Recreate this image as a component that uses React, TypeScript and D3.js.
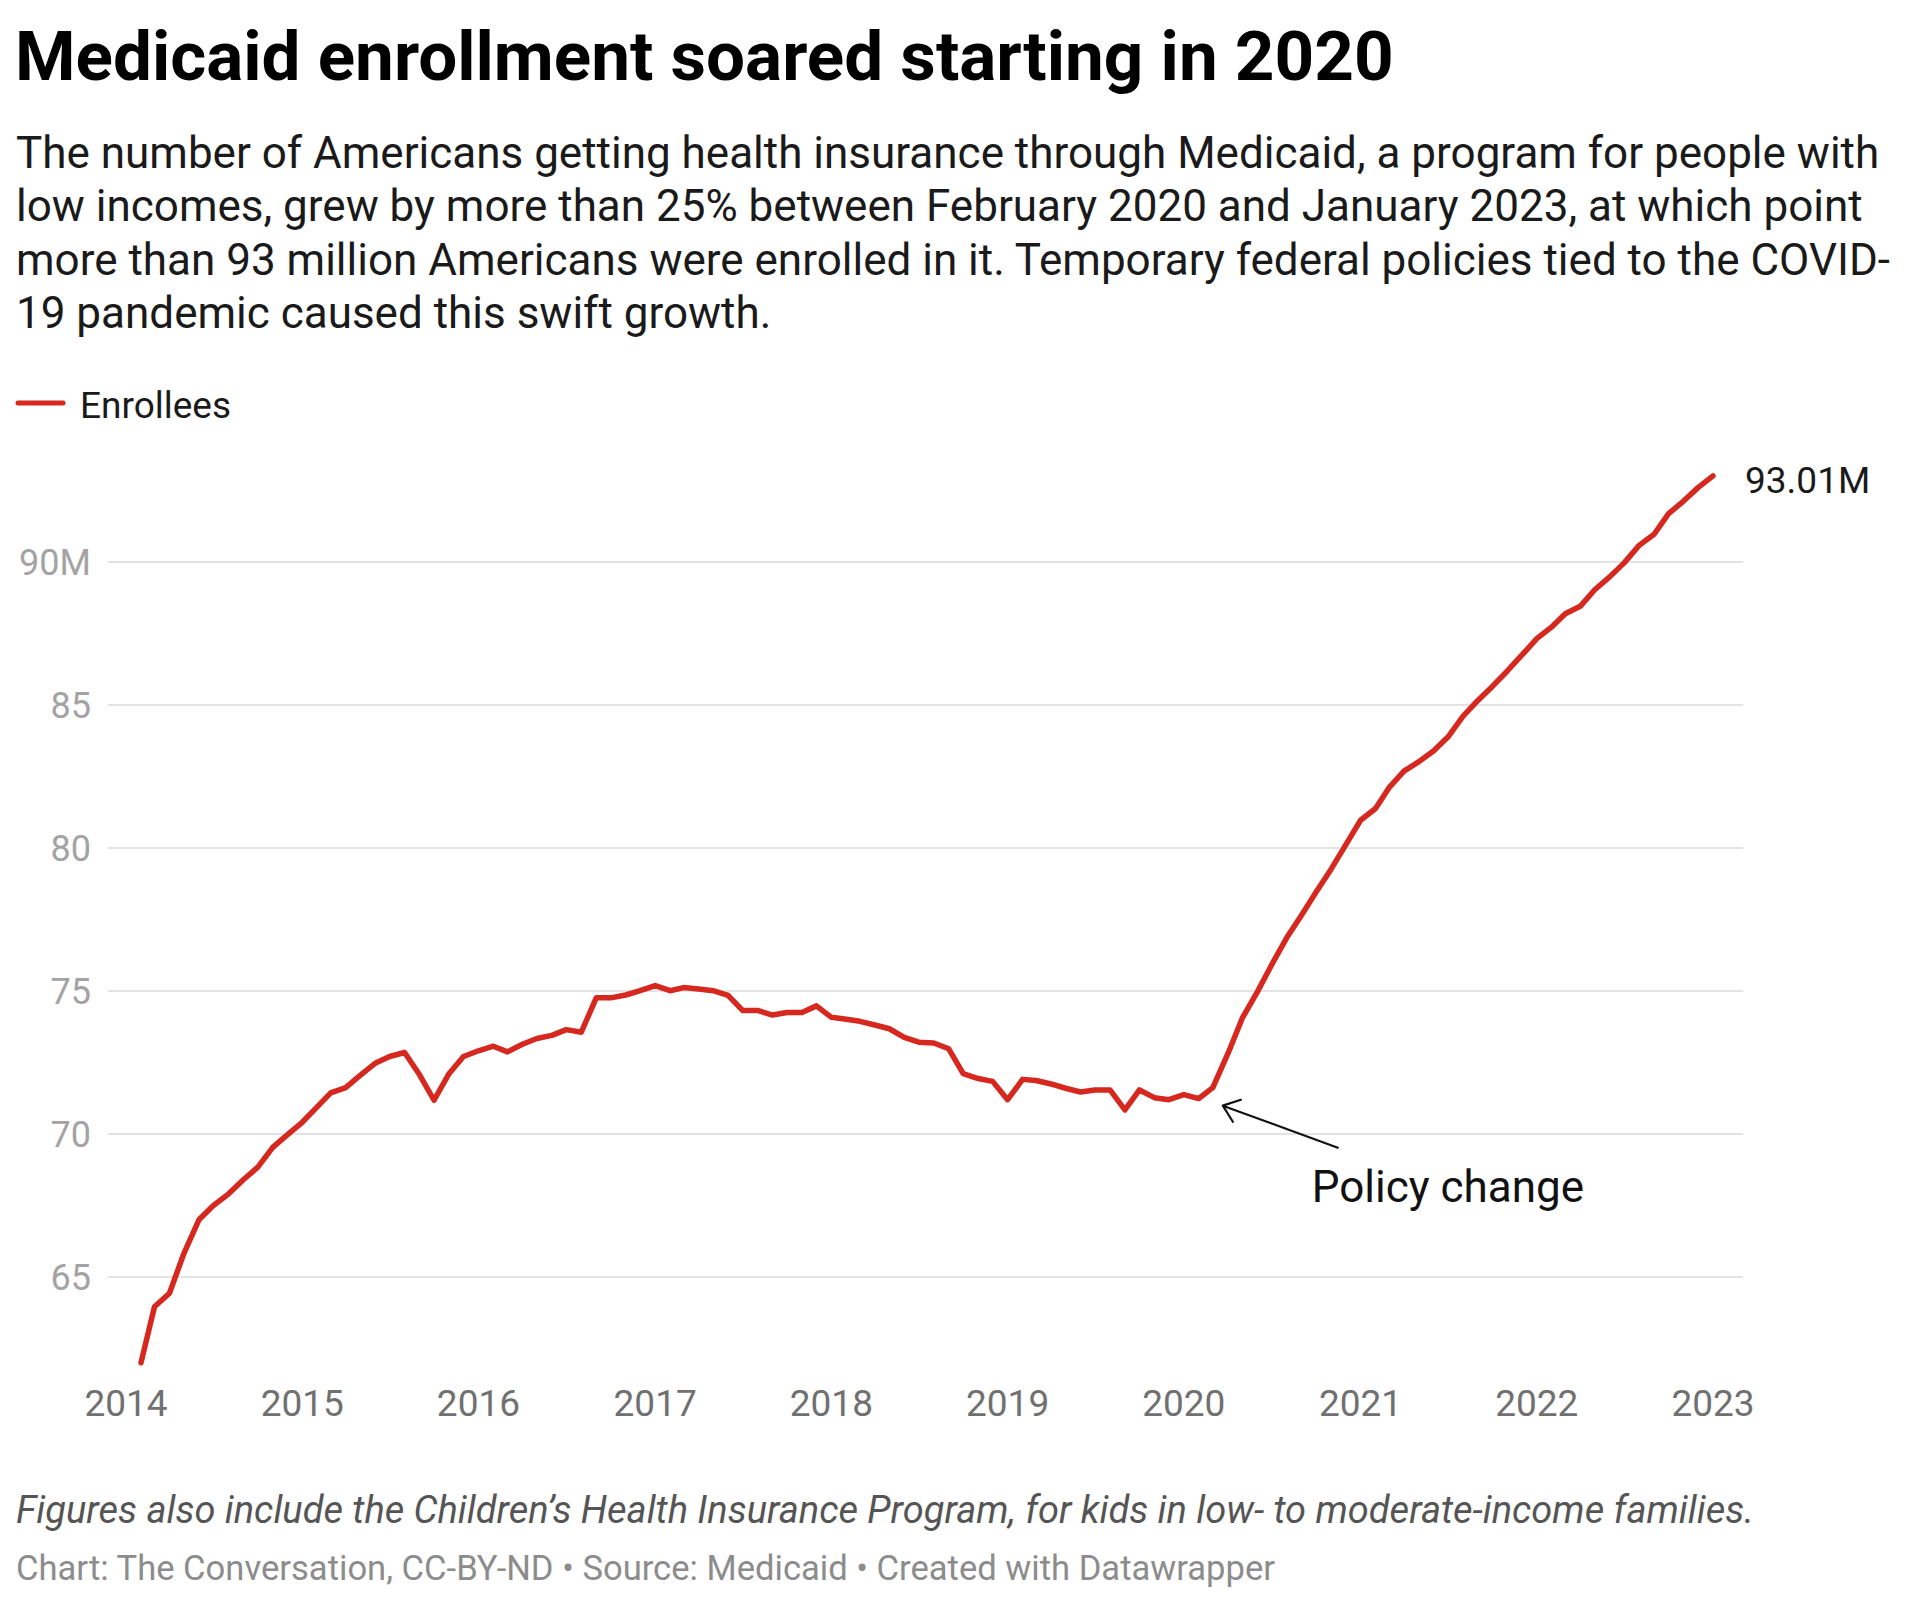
import { useEffect, useRef } from 'react'
import * as d3 from 'd3'

// Monthly Medicaid + CHIP enrollment, millions (Feb 2014 – Jan 2023)
const firstMonth = new Date(2014, 1, 1)
const enrollees2014 = [62.0, 63.96, 64.43, 65.83, 67.0, 67.5, 67.9, 68.4, 68.84, 69.53, 69.97]
const enrollees2015 = [70.41, 70.95, 71.44, 71.62, 72.05, 72.47, 72.71, 72.85, 72.07, 71.18, 72.11, 72.71]
const enrollees2016 = [72.91, 73.07, 72.87, 73.14, 73.34, 73.45, 73.65, 73.56, 74.76, 74.76, 74.86, 75.01]
const enrollees2017 = [75.19, 75.01, 75.12, 75.07, 75.01, 74.85, 74.32, 74.32, 74.16, 74.25, 74.25, 74.48]
const enrollees2018 = [74.08, 74.01, 73.94, 73.81, 73.68, 73.38, 73.21, 73.18, 72.98, 72.11, 71.94, 71.84]
const enrollees2019 = [71.2, 71.91, 71.87, 71.75, 71.6, 71.47, 71.54, 71.54, 70.84, 71.54, 71.27, 71.2]
const enrollees2020 = [71.38, 71.24, 71.62, 72.8, 74.05, 74.96, 75.92, 76.86, 77.66, 78.46, 79.26, 80.1]
const enrollees2021 = [80.97, 81.38, 82.11, 82.69, 83.01, 83.39, 83.88, 84.6, 85.16, 85.65, 86.19, 86.74]
const enrollees2022 = [87.32, 87.73, 88.19, 88.45, 89.03, 89.48, 89.97, 90.58, 90.97, 91.69, 92.13, 92.6]
const enrollees2023 = [93.01]

const yTicks = [65, 70, 75, 80, 85, 90]
const xTickYears = [2014, 2015, 2016, 2017, 2018, 2019, 2020, 2021, 2022, 2023]

const title = 'Medicaid enrollment soared starting in 2020'
const descriptionLines = [
  'The number of Americans getting health insurance through Medicaid, a program for people with',
  'low incomes, grew by more than 25% between February 2020 and January 2023, at which point',
  'more than 93 million Americans were enrolled in it. Temporary federal policies tied to the COVID-',
  '19 pandemic caused this swift growth.',
]
const seriesName = 'Enrollees'
const annotationText = 'Policy change'
const annotationMonth = new Date(2020, 2, 1)
const notes = 'Figures also include the Children’s Health Insurance Program, for kids in low- to moderate-income families.'
const byline = 'Chart: The Conversation, CC-BY-ND • Source: Medicaid • Created with Datawrapper'

const RED = '#d6281f'
const FONT = 'Roboto, "Noto Sans", sans-serif'

export default function App() {
  const svgRef = useRef<SVGSVGElement>(null)

  useEffect(() => {
    document.body.style.margin = '0'
    if (!svgRef.current) return

    const svg = d3.select(svgRef.current)
    svg.selectAll('*').remove()

    const width = 1920
    const height = 1605

    const values = [
      ...enrollees2014, ...enrollees2015, ...enrollees2016, ...enrollees2017, ...enrollees2018,
      ...enrollees2019, ...enrollees2020, ...enrollees2021, ...enrollees2022, ...enrollees2023,
    ]
    const data = values.map((v, i) => ({ date: d3.timeMonth.offset(firstMonth, i), value: v }))

    const x = d3.scaleTime()
      .domain([new Date(2014, 0, 1), new Date(2023, 0, 1)])
      .range([126, 1713])

    const y = d3.scaleLinear()
      .domain([65, 90])
      .range([1277, 562])

    const gridLeft = 108
    const gridRight = 1743

    svg.attr('width', width).attr('height', height)
      .style('font-family', FONT)
      .style('background', '#fff')

    // Header
    svg.append('text')
      .attr('x', 15)
      .attr('y', 80)
      .attr('font-size', 69.2)
      .attr('font-weight', 700)
      .attr('fill', '#000')
      .text(title)

    svg.append('g')
      .selectAll('text')
      .data(descriptionLines)
      .join('text')
      .attr('x', 16)
      .attr('y', (d, i) => 168 + i * 53.3)
      .attr('font-size', 44)
      .attr('fill', '#1a1a1a')
      .text(d => d)

    // Legend
    svg.append('line')
      .attr('x1', 18).attr('x2', 63)
      .attr('y1', 403).attr('y2', 403)
      .attr('stroke', RED)
      .attr('stroke-width', 5)
      .attr('stroke-linecap', 'round')

    svg.append('text')
      .attr('x', 80)
      .attr('y', 418)
      .attr('font-size', 37)
      .attr('fill', '#1a1a1a')
      .text(seriesName)

    // Grid + y labels
    const grid = svg.append('g')
    grid.selectAll('line')
      .data(yTicks)
      .join('line')
      .attr('x1', gridLeft)
      .attr('x2', gridRight)
      .attr('y1', d => y(d))
      .attr('y2', d => y(d))
      .attr('stroke', '#e3e3e3')
      .attr('stroke-width', 2)

    grid.selectAll('text')
      .data(yTicks)
      .join('text')
      .attr('x', 91)
      .attr('y', d => y(d))
      .attr('dy', '0.35em')
      .attr('text-anchor', 'end')
      .attr('font-size', 36)
      .attr('fill', '#a3a3a3')
      .text(d => (d === 90 ? `${d}M` : `${d}`))

    // X labels
    svg.append('g')
      .selectAll('text')
      .data(xTickYears)
      .join('text')
      .attr('x', d => x(new Date(d, 0, 1)))
      .attr('y', 1416)
      .attr('text-anchor', 'middle')
      .attr('font-size', 37)
      .attr('fill', '#707070')
      .text(d => d)

    // Line
    const line = d3.line<{ date: Date; value: number }>()
      .x(d => x(d.date))
      .y(d => y(d.value))

    svg.append('path')
      .datum(data)
      .attr('fill', 'none')
      .attr('stroke', RED)
      .attr('stroke-width', 5.5)
      .attr('stroke-linejoin', 'round')
      .attr('stroke-linecap', 'round')
      .attr('d', line)

    // End value label
    const last = data[data.length - 1]
    svg.append('text')
      .attr('x', x(last.date) + 32)
      .attr('y', y(last.value) + 17)
      .attr('font-size', 37)
      .attr('fill', '#1a1a1a')
      .text(`${last.value.toFixed(2)}M`)

    // Annotation
    const point = data.find(d => +d.date === +annotationMonth)!
    const px = x(point.date)
    const py = y(point.value)
    const head: [number, number] = [px + 10, py + 18]
    const tail: [number, number] = [px + 125, py + 60]
    const ang = Math.atan2(tail[1] - head[1], tail[0] - head[0])
    const barbLen = 19
    const spread = (38 * Math.PI) / 180
    const b1: [number, number] = [head[0] + barbLen * Math.cos(ang - spread), head[1] + barbLen * Math.sin(ang - spread)]
    const b2: [number, number] = [head[0] + barbLen * Math.cos(ang + spread), head[1] + barbLen * Math.sin(ang + spread)]

    svg.append('path')
      .attr('d', `M${tail[0]},${tail[1]}L${head[0]},${head[1]}M${b1[0]},${b1[1]}L${head[0]},${head[1]}L${b2[0]},${b2[1]}`)
      .attr('fill', 'none')
      .attr('stroke', '#111')
      .attr('stroke-width', 2.2)
      .attr('stroke-linecap', 'round')
      .attr('stroke-linejoin', 'round')

    svg.append('text')
      .attr('x', px + 99)
      .attr('y', py + 114)
      .attr('font-size', 44)
      .attr('fill', '#111')
      .text(annotationText)

    // Footer
    svg.append('text')
      .attr('x', 16)
      .attr('y', 1523)
      .attr('font-size', 38)
      .attr('font-style', 'italic')
      .attr('fill', '#555')
      .text(notes)

    svg.append('text')
      .attr('x', 16)
      .attr('y', 1580)
      .attr('font-size', 34.6)
      .attr('fill', '#8c8c8c')
      .text(byline)
  }, [])

  return <svg ref={svgRef} style={{ display: 'block' }} />
}
